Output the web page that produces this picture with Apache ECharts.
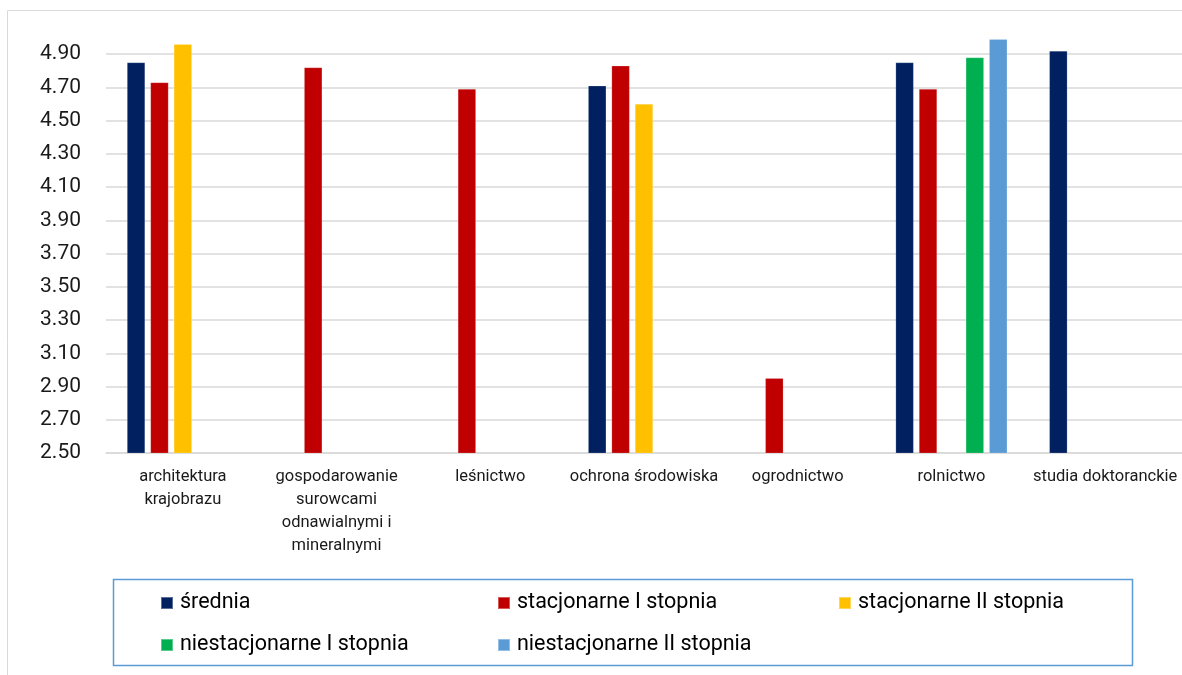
<!DOCTYPE html>
<html><head><meta charset="utf-8">
<script src="https://cdn.jsdelivr.net/npm/echarts@6/dist/echarts.min.js"></script>
<style>html,body{margin:0;padding:0;background:#fff}#c{width:1182px;height:675px}</style>
</head><body><div id="c"></div>
<script>
const categories = ['architektura\nkrajobrazu', 'gospodarowanie\nsurowcami\nodnawialnymi i\nmineralnymi', 'leśnictwo', 'ochrona środowiska', 'ogrodnictwo', 'rolnictwo', 'studia doktoranckie'];
const seriesNames = ['średnia', 'stacjonarne I stopnia', 'stacjonarne II stopnia', 'niestacjonarne I stopnia', 'niestacjonarne II stopnia'];
const srednia = [4.85, null, null, 4.71, null, 4.85, 4.92];
const stacI = [4.73, 4.82, 4.69, 4.83, 2.95, 4.69, null];
const stacII = [4.96, null, null, 4.60, null, null, null];
const niestacI = [null, null, null, null, null, 4.88, null];
const niestacII = [null, null, null, null, null, 4.99, null];
const colors = ['#002060', '#c00000', '#ffc000', '#00b050', '#5b9bd5'];
const yMin = 2.5, yMax = 5.1, yStep = 0.2;

const values = [srednia, stacI, stacII, niestacI, niestacII];
const font = 'Roboto, "Noto Sans", sans-serif';
const legendPos = [[160, 592], [497, 592], [838, 592], [160, 634], [497, 634]];
const nLines = Math.round((yMax - yMin) / yStep) + 1;
const gridColors = [];
for (let i = 0; i < nLines; i++) gridColors.push(i === nLines - 1 ? 'rgba(0,0,0,0)' : '#d9d9d9');

const chart = echarts.init(document.getElementById('c'), null, {renderer: 'canvas'});
chart.setOption({
  animation: false,
  textStyle: {fontFamily: font},
  grid: {left: 106, right: 0, top: 21, bottom: 222, containLabel: false},
  xAxis: {
    type: 'category', data: categories,
    axisLine: {lineStyle: {color: '#d9d9d9', width: 1.5}},
    axisTick: {show: false},
    axisLabel: {color: '#1a1a1a', fontSize: 16.5, lineHeight: 23, margin: 12, interval: 0, fontFamily: font}
  },
  yAxis: {
    type: 'value', min: yMin, max: yMax, interval: yStep,
    axisLine: {show: false}, axisTick: {show: false},
    splitLine: {lineStyle: {color: gridColors, width: 1.5}},
    axisLabel: {color: '#1a1a1a', fontSize: 21, margin: 25, showMaxLabel: false, fontFamily: font,
      formatter: v => v.toFixed(2)}
  },
  legend: seriesNames.map((n, i) => ({
    data: [n], left: legendPos[i][0], top: legendPos[i][1], padding: 0,
    icon: 'rect', itemWidth: 12, itemHeight: 12, itemGap: 0,
    textStyle: {fontSize: 21.5, color: '#000', fontFamily: font, padding: [0, 0, 0, 2]}
  })),
  graphic: [
    {type: 'rect', shape: {x: 7.5, y: 10.5, width: 1200, height: 700}, style: {fill: 'none', stroke: '#d9d9d9', lineWidth: 1}, silent: true, z: -10},
    {type: 'rect', shape: {x: 113.5, y: 579.5, width: 1019, height: 86}, style: {fill: 'none', stroke: '#5b9bd5', lineWidth: 1.5}, silent: true}
  ],
  series: seriesNames.map((n, i) => ({
    name: n, type: 'bar', data: values[i].map(v => v === null ? '-' : v),
    barWidth: 18, barGap: '30%',
    itemStyle: {color: colors[i], borderColor: 'rgba(255,255,255,0.35)', borderWidth: 0.5}
  }))
});
</script></body></html>
